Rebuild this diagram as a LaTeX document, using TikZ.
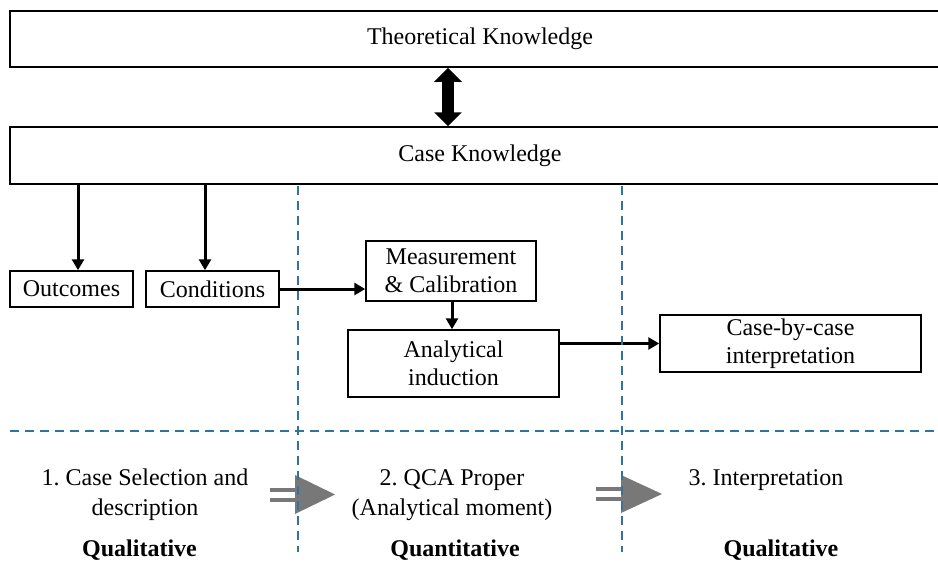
\documentclass[tikz,border=0pt]{standalone}
\usepackage{fontspec}
\setmainfont{Liberation Serif}
\usetikzlibrary{arrows.meta}
\definecolor{dashblue}{RGB}{49,115,155}
\definecolor{arrgray}{RGB}{120,120,120}
\frenchspacing
\begin{document}
\begin{tikzpicture}[x=0.5pt,y=-0.5pt,
  box/.style={draw, line width=0.75pt, inner sep=0pt, align=center, font=\fontsize{12}{14}\selectfont},
  arr/.style={line width=1.5pt, -{Triangle[length=5.5pt,width=6pt]}},
  bigarr/.style={line width=6pt, {Triangle[length=7pt,width=13.5pt]}-{Triangle[length=7pt,width=13.5pt]}},
  sep/.style={dashblue, line width=0.65pt, dash pattern=on 4.5pt off 3pt},
  lbl/.style={align=center, inner sep=0pt, font=\fontsize{12}{15}\selectfont},
  blbl/.style={inner sep=0pt, font=\fontsize{12}{15}\selectfont\bfseries},
  grayline/.style={arrgray, line width=2pt},
  grayhead/.style={fill=arrgray}]
\useasboundingbox (0,0) rectangle (938,574);
% main boxes
\node[box, minimum width=470pt, minimum height=28pt] (TK) at (480,39) {\raisebox{-1.5pt}{Theoretical Knowledge}};
\node[box, minimum width=470pt, minimum height=28.5pt] (CK) at (480,155.5) {\raisebox{-1.5pt}{Case Knowledge}};
\node[box, minimum width=61.5pt, minimum height=18pt] (Out) at (71.5,289) {Outcomes};
\node[box, minimum width=66.5pt, minimum height=18pt] (Con) at (212.5,289) {Conditions};
\node[box, minimum width=85pt, minimum height=30pt] (MC) at (451,271) {Measurement\\\& Calibration};
\node[box, minimum width=105.5pt, minimum height=33.5pt] (AI) at (453.5,363.5) {Analytical\\induction};
\node[box, minimum width=130.5pt, minimum height=28.5pt] (CC) at (790.5,343.5) {Case-by-case\\interpretation};
% helper columns
\coordinate (c1) at (78,0);
\coordinate (c2) at (205,0);
\coordinate (c3) at (452,0);
\coordinate (c4) at (448,0);
% connectors
\draw[bigarr] (TK.south -| c4) -- (CK.north -| c4);
\draw[arr] (CK.south -| c1) -- (Out.north -| c1);
\draw[arr] (CK.south -| c2) -- (Con.north -| c2);
\draw[arr] (Con.east) -- (MC.west |- Con.east);
\draw[arr] (MC.south -| c3) -- (AI.north -| c3);
\draw[arr] (AI.east |- CC.west) -- (CC.west);
% gray phase arrows
\draw[grayline] (270,490) -- (297,490) (270,499.5) -- (297,499.5);
\fill[grayhead] (295,475) -- (335,494.5) -- (295,514) -- cycle;
\draw[grayline] (596,489) -- (622,489) (596,499) -- (622,499);
\fill[grayhead] (621,475) -- (662,494) -- (621,513) -- cycle;
% separators
\draw[sep] (298,186) -- (298,552);
\draw[sep] (622,186) -- (622,552);
\draw[sep] (10,431) -- (938,431);
% phase labels
\node[lbl] (s1) at (145,495) {1. Case Selection and\\description};
\node[blbl] (q1) at (139.5,550) {Qualitative};
\node[lbl] (s2) at (452,495) {2. QCA Proper\\(Analytical moment)};
\node[blbl] (q2) at (455,550) {Quantitative};
\node[lbl] (s3) at (766,480) {3. Interpretation};
\node[blbl] (q3) at (781,550) {Qualitative};
\end{tikzpicture}
\end{document}
